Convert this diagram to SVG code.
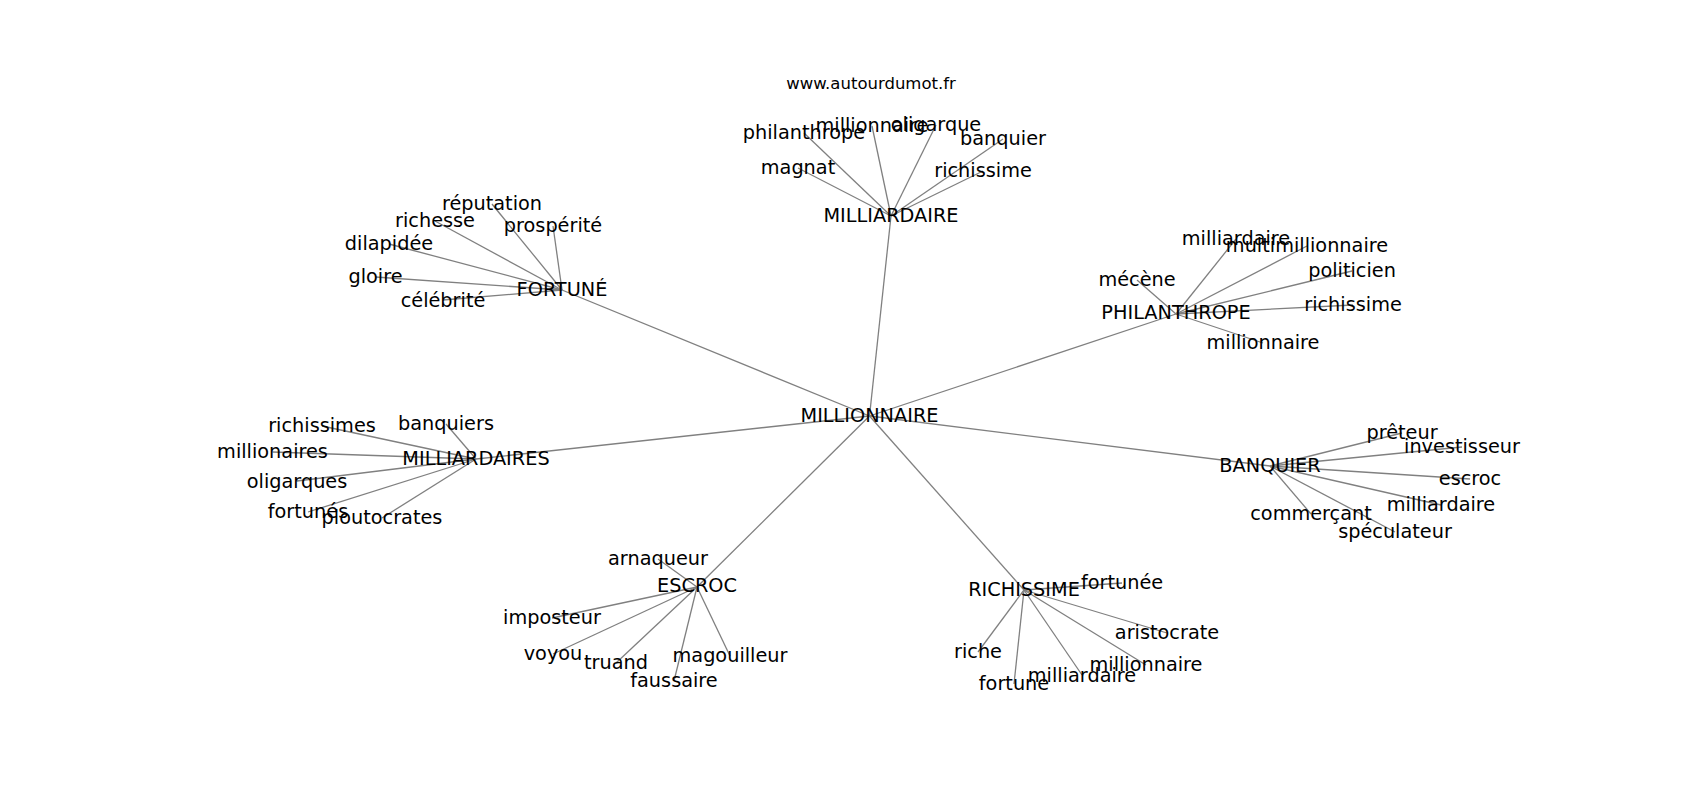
<svg xmlns="http://www.w3.org/2000/svg" width="1700" height="800" viewBox="0 0 1700 800">
<style>
.e{stroke:#808080;stroke-width:1.3;fill:none}
text{font-family:"DejaVu Sans","Liberation Sans",sans-serif;font-size:19.3px;fill:#000;text-anchor:middle}
.t{font-size:16.5px}
</style>
<rect width="1700" height="800" fill="#fff"/>
<g id="connectors">
<line class="e" x1="869.5" y1="416" x2="891" y2="216"/>
<line class="e" x1="869.5" y1="416" x2="562" y2="290"/>
<line class="e" x1="869.5" y1="416" x2="1176" y2="314"/>
<line class="e" x1="869.5" y1="416" x2="476" y2="459"/>
<line class="e" x1="869.5" y1="416" x2="1270" y2="466"/>
<line class="e" x1="869.5" y1="416" x2="697" y2="587"/>
<line class="e" x1="869.5" y1="416" x2="1024" y2="590"/>
<line class="e" x1="891" y1="216" x2="804" y2="133"/>
<line class="e" x1="891" y1="216" x2="872" y2="126"/>
<line class="e" x1="891" y1="216" x2="936" y2="125"/>
<line class="e" x1="891" y1="216" x2="1003" y2="139"/>
<line class="e" x1="891" y1="216" x2="798" y2="168"/>
<line class="e" x1="891" y1="216" x2="983" y2="171"/>
<line class="e" x1="562" y1="290" x2="492" y2="204"/>
<line class="e" x1="562" y1="290" x2="435" y2="221"/>
<line class="e" x1="562" y1="290" x2="553" y2="226"/>
<line class="e" x1="562" y1="290" x2="389" y2="244"/>
<line class="e" x1="562" y1="290" x2="375.5" y2="277"/>
<line class="e" x1="562" y1="290" x2="443" y2="300"/>
<line class="e" x1="1176" y1="314" x2="1236" y2="239"/>
<line class="e" x1="1176" y1="314" x2="1307" y2="246"/>
<line class="e" x1="1176" y1="314" x2="1352" y2="271"/>
<line class="e" x1="1176" y1="314" x2="1137" y2="280"/>
<line class="e" x1="1176" y1="314" x2="1353" y2="305"/>
<line class="e" x1="1176" y1="314" x2="1263" y2="343"/>
<line class="e" x1="476" y1="459" x2="322" y2="426"/>
<line class="e" x1="476" y1="459" x2="446" y2="424"/>
<line class="e" x1="476" y1="459" x2="272.5" y2="452"/>
<line class="e" x1="476" y1="459" x2="297" y2="481"/>
<line class="e" x1="476" y1="459" x2="308" y2="512"/>
<line class="e" x1="476" y1="459" x2="382" y2="518"/>
<line class="e" x1="1270" y1="466" x2="1402" y2="433"/>
<line class="e" x1="1270" y1="466" x2="1462" y2="447"/>
<line class="e" x1="1270" y1="466" x2="1470" y2="479"/>
<line class="e" x1="1270" y1="466" x2="1441" y2="505"/>
<line class="e" x1="1270" y1="466" x2="1311" y2="514"/>
<line class="e" x1="1270" y1="466" x2="1395" y2="532"/>
<line class="e" x1="697" y1="587" x2="658" y2="559"/>
<line class="e" x1="697" y1="587" x2="552" y2="618"/>
<line class="e" x1="697" y1="587" x2="553" y2="654"/>
<line class="e" x1="697" y1="587" x2="616" y2="663"/>
<line class="e" x1="697" y1="587" x2="730" y2="656"/>
<line class="e" x1="697" y1="587" x2="674" y2="681"/>
<line class="e" x1="1024" y1="590" x2="1122" y2="583"/>
<line class="e" x1="1024" y1="590" x2="1167" y2="633"/>
<line class="e" x1="1024" y1="590" x2="978" y2="652"/>
<line class="e" x1="1024" y1="590" x2="1014" y2="684"/>
<line class="e" x1="1024" y1="590" x2="1082" y2="675"/>
<line class="e" x1="1024" y1="590" x2="1146" y2="665"/>
</g>
<g id="title"><text class="t" x="871" y="88.5">www.autourdumot.fr</text></g>
<g id="n-millionnaire"><text x="869.5" y="422">MILLIONNAIRE</text></g>
<g id="n-milliardaire"><text x="891" y="222">MILLIARDAIRE</text></g>
<g id="n-fortune-hub"><text x="562" y="296">FORTUNÉ</text></g>
<g id="n-philanthrope-hub"><text x="1176" y="319">PHILANTHROPE</text></g>
<g id="n-milliardaires"><text x="476" y="465">MILLIARDAIRES</text></g>
<g id="n-banquier-hub"><text x="1270" y="472">BANQUIER</text></g>
<g id="n-escroc-hub"><text x="697" y="592">ESCROC</text></g>
<g id="n-richissime-hub"><text x="1024" y="596">RICHISSIME</text></g>
<g id="n-ma-philanthrope"><text x="804" y="139">philanthrope</text></g>
<g id="n-ma-millionnaire"><text x="872" y="132">millionnaire</text></g>
<g id="n-ma-oligarque"><text x="936" y="131">oligarque</text></g>
<g id="n-ma-banquier"><text x="1003" y="145">banquier</text></g>
<g id="n-ma-magnat"><text x="798" y="174">magnat</text></g>
<g id="n-ma-richissime"><text x="983" y="177">richissime</text></g>
<g id="n-fo-reputation"><text x="492" y="210">réputation</text></g>
<g id="n-fo-richesse"><text x="435" y="227">richesse</text></g>
<g id="n-fo-prosperite"><text x="553" y="232">prospérité</text></g>
<g id="n-fo-dilapidee"><text x="389" y="250">dilapidée</text></g>
<g id="n-fo-gloire"><text x="375.5" y="283">gloire</text></g>
<g id="n-fo-celebrite"><text x="443" y="307">célébrité</text></g>
<g id="n-ph-milliardaire"><text x="1236" y="245">milliardaire</text></g>
<g id="n-ph-multimillionnaire"><text x="1307" y="252">multimillionnaire</text></g>
<g id="n-ph-politicien"><text x="1352" y="277">politicien</text></g>
<g id="n-ph-mecene"><text x="1137" y="286">mécène</text></g>
<g id="n-ph-richissime"><text x="1353" y="311">richissime</text></g>
<g id="n-ph-millionnaire"><text x="1263" y="349">millionnaire</text></g>
<g id="n-ms-richissimes"><text x="322" y="432">richissimes</text></g>
<g id="n-ms-banquiers"><text x="446" y="430">banquiers</text></g>
<g id="n-ms-millionaires"><text x="272.5" y="458">millionaires</text></g>
<g id="n-ms-oligarques"><text x="297" y="488">oligarques</text></g>
<g id="n-ms-fortunes"><text x="308" y="518">fortunés</text></g>
<g id="n-ms-ploutocrates"><text x="382" y="524">ploutocrates</text></g>
<g id="n-ba-preteur"><text x="1402" y="439">prêteur</text></g>
<g id="n-ba-investisseur"><text x="1462" y="453">investisseur</text></g>
<g id="n-ba-escroc"><text x="1470" y="485">escroc</text></g>
<g id="n-ba-milliardaire"><text x="1441" y="511">milliardaire</text></g>
<g id="n-ba-commercant"><text x="1311" y="520">commerçant</text></g>
<g id="n-ba-speculateur"><text x="1395" y="538">spéculateur</text></g>
<g id="n-es-arnaqueur"><text x="658" y="565">arnaqueur</text></g>
<g id="n-es-imposteur"><text x="552" y="624">imposteur</text></g>
<g id="n-es-voyou"><text x="553" y="660">voyou</text></g>
<g id="n-es-truand"><text x="616" y="669">truand</text></g>
<g id="n-es-magouilleur"><text x="730" y="662">magouilleur</text></g>
<g id="n-es-faussaire"><text x="674" y="687">faussaire</text></g>
<g id="n-ri-fortunee"><text x="1122" y="589">fortunée</text></g>
<g id="n-ri-aristocrate"><text x="1167" y="639">aristocrate</text></g>
<g id="n-ri-riche"><text x="978" y="658">riche</text></g>
<g id="n-ri-fortune"><text x="1014" y="690">fortune</text></g>
<g id="n-ri-milliardaire"><text x="1082" y="682">milliardaire</text></g>
<g id="n-ri-millionnaire"><text x="1146" y="671">millionnaire</text></g>
</svg>
